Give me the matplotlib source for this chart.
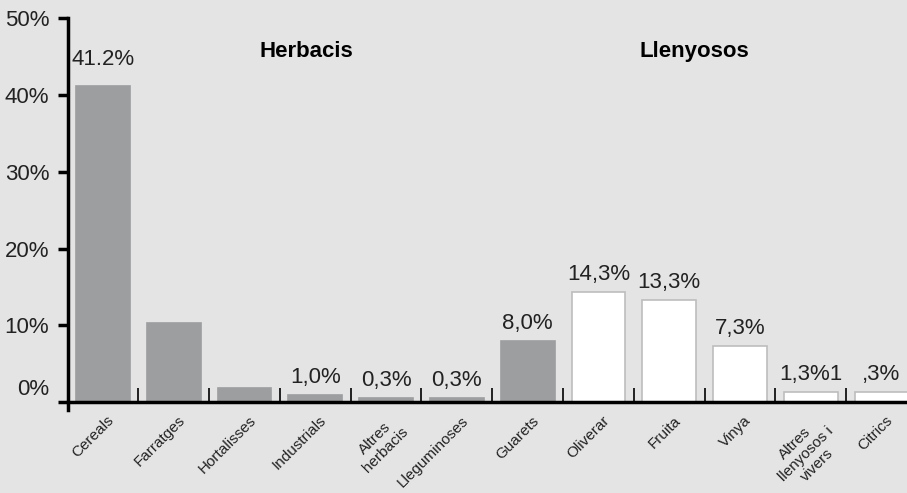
import numpy as np
import matplotlib
matplotlib.use('Agg')
import matplotlib.pyplot as plt
import matplotlib.transforms as mtransforms

# data
categories = ['Cereals', 'Farratges', 'Hortalisses', 'Industrials', 'Altres\nherbacis',
              'Lleguminoses', 'Guarets', 'Oliverar', 'Fruita', 'Vinya',
              'Altres\nllenyosos i\nvivers', 'Citrics']
values = [41.2, 10.3, 1.9, 1.0, 0.6, 0.6, 8.0, 14.3, 13.3, 7.3, 1.3, 1.3]
value_labels = ['41.2%', '', '', '1,0%', '0,3%', '0,3%', '8,0%',
                '14,3%', '13,3%', '7,3%', '1,3%1', ',3%']
woody = [False] * 7 + [True] * 5
y_ticks = [0, 10, 20, 30, 40, 50]
y_ticklabels = ['0%', '10%', '20%', '30%', '40%', '50%']

bg = '#e3e4e3'
grey = '#9d9e9f'
num_font = ['Liberation Sans Narrow', 'Liberation Sans', 'DejaVu Sans']
txt_font = ['Liberation Sans', 'DejaVu Sans']

W, H = 907, 493
fig = plt.figure(figsize=(W / 100, H / 100), dpi=100, facecolor=bg)
ax = fig.add_axes([68 / W, 83 / H, (W - 68) / W, 392 / H])
ax.set_facecolor(bg)

x = np.arange(len(categories))
colors = ['white' if w else grey for w in woody]
edges = ['#bdbdbd' if w else grey for w in woody]
ax.bar(x, values, width=0.76, color=colors, edgecolor=edges, linewidth=1.2, zorder=2)

for xi, v, lab in zip(x, values, value_labels):
    if lab:
        # the cereals label sits a bit higher in the original
        off = 11 if xi == 0 else 5
        ax.annotate(lab, (xi, v), xytext=(0, off), textcoords='offset points',
                    ha='center', va='bottom', fontsize=16, color='#222222',
                    family=num_font)

ax.set_xlim(-0.494, 11.36)
ax.set_ylim(-1, 50)

for s in ['top', 'right']:
    ax.spines[s].set_visible(False)
ax.spines['bottom'].set_position(('data', 0))
ax.spines['bottom'].set_linewidth(2.5)
ax.spines['left'].set_linewidth(2.5)
ax.spines['bottom'].set_zorder(3)

ax.set_yticks(y_ticks)
ax.set_yticklabels(y_ticklabels, fontsize=16, family=num_font, color='#222222')
ax.tick_params(axis='y', length=7.5, width=2.5, pad=6)
# the 0% label sits above its tick
lab0 = ax.get_yticklabels()[0]
lab0.set_transform(lab0.get_transform() +
                   mtransforms.ScaledTranslation(0, 15 / 100, fig.dpi_scale_trans))

ax.set_xticks(x)
ax.set_xticklabels(categories, rotation=45, ha='right', va='top',
                   rotation_mode='anchor', fontsize=11, family=num_font,
                   color='#222222', multialignment='center', linespacing=1.15)
ax.tick_params(axis='x', which='major', length=0, pad=8)
for t in ax.get_xticklabels():
    t.set_transform(t.get_transform() +
                    mtransforms.ScaledTranslation(4 / 100, 0, fig.dpi_scale_trans))
ax.set_xticks(x[:-1] + 0.5, minor=True)
ax.tick_params(axis='x', which='minor', direction='in', length=10, width=1.2)

ax.text(2.88, 45.6, 'Herbacis', ha='center', va='center', fontsize=16,
        fontweight='bold', family=txt_font, color='black')
ax.text(8.35, 45.6, 'Llenyosos', ha='center', va='center', fontsize=16,
        fontweight='bold', family=txt_font, color='black')

fig.savefig('out.png', dpi=100, facecolor=bg)
